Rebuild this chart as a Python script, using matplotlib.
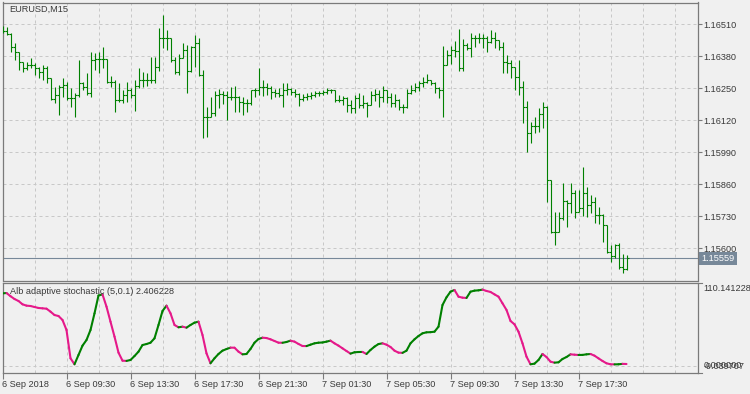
import matplotlib
matplotlib.use("Agg")
import matplotlib.pyplot as plt
from matplotlib.collections import LineCollection
from matplotlib.transforms import blended_transform_factory
import numpy as np

# ---------------- data ----------------
symbol_title = "EURUSD,M15"
indicator_title = "Alb adaptive stochastic (5,0.1) 2.406228"
time_labels = ["6 Sep 2018", "6 Sep 09:30", "6 Sep 13:30", "6 Sep 17:30", "6 Sep 21:30",
               "7 Sep 01:30", "7 Sep 05:30", "7 Sep 09:30", "7 Sep 13:30", "7 Sep 17:30"]
time_label_bars = [0, 16, 32, 48, 64, 80, 96, 112, 128, 144]
price_ticks = [1.15600, 1.15730, 1.15860, 1.15990, 1.16120, 1.16250, 1.16380, 1.16510]
bid_price = 1.15559
stoch_top_label = "110.141228"
stoch_zero_label = "0.000000"
stoch_bottom_label = "-9.039707"

first_open = 1.16490
highs = [1.16503, 1.16500, 1.16473, 1.16433, 1.16399, 1.16358, 1.16358, 1.16372, 1.16352, 1.16338,
         1.16345, 1.16341, 1.16292, 1.16256, 1.16263, 1.16291, 1.16277, 1.16250, 1.16230, 1.16365,
         1.16277, 1.16311, 1.16399, 1.16392, 1.16399, 1.16419, 1.16370, 1.16300, 1.16284, 1.16270,
         1.16243, 1.16277, 1.16250, 1.16284, 1.16331, 1.16317, 1.16311, 1.16378, 1.16378, 1.16494,
         1.16548, 1.16487, 1.16455, 1.16378, 1.16389, 1.16433, 1.16426, 1.16422, 1.16467, 1.16453,
         1.16324, 1.16175, 1.16216, 1.16240, 1.16246, 1.16240, 1.16240, 1.16254, 1.16259, 1.16219,
         1.16216, 1.16205, 1.16243, 1.16250, 1.16331, 1.16284, 1.16270, 1.16259, 1.16246, 1.16250,
         1.16273, 1.16273, 1.16250, 1.16246, 1.16232, 1.16227, 1.16230, 1.16236, 1.16240, 1.16240,
         1.16243, 1.16250, 1.16248, 1.16243, 1.16223, 1.16219, 1.16216, 1.16202, 1.16223, 1.16232,
         1.16223, 1.16196, 1.16240, 1.16246, 1.16243, 1.16259, 1.16243, 1.16230, 1.16227, 1.16205,
         1.16186, 1.16246, 1.16263, 1.16273, 1.16281, 1.16295, 1.16308, 1.16284, 1.16277, 1.16256,
         1.16422, 1.16406, 1.16422, 1.16443, 1.16490, 1.16449, 1.16435, 1.16476, 1.16467, 1.16476,
         1.16471, 1.16462, 1.16487, 1.16480, 1.16446, 1.16439, 1.16385, 1.16365, 1.16338, 1.16365,
         1.16281, 1.16200, 1.16114, 1.16132, 1.16169, 1.16196, 1.16178, 1.15877, 1.15749, 1.15749,
         1.15866, 1.15796, 1.15866, 1.15837, 1.15837, 1.15929, 1.15850, 1.15816, 1.15810, 1.15766,
         1.15738, 1.15695, 1.15613, 1.15617, 1.15620, 1.15577, 1.15573]
lows = [1.16475, 1.16467, 1.16399, 1.16365, 1.16324, 1.16317, 1.16324, 1.16331, 1.16304, 1.16291,
        1.16284, 1.16273, 1.16202, 1.16189, 1.16141, 1.16216, 1.16202, 1.16175, 1.16132, 1.16216,
        1.16243, 1.16223, 1.16216, 1.16324, 1.16311, 1.16331, 1.16270, 1.16254, 1.16155, 1.16196,
        1.16189, 1.16196, 1.16209, 1.16159, 1.16250, 1.16254, 1.16259, 1.16270, 1.16270, 1.16321,
        1.16412, 1.16406, 1.16358, 1.16308, 1.16304, 1.16372, 1.16232, 1.16317, 1.16338, 1.16300,
        1.16047, 1.16051, 1.16135, 1.16137, 1.16169, 1.16186, 1.16121, 1.16202, 1.16155, 1.16155,
        1.16141, 1.16155, 1.16182, 1.16216, 1.16223, 1.16219, 1.16223, 1.16205, 1.16216, 1.16216,
        1.16175, 1.16223, 1.16223, 1.16216, 1.16178, 1.16200, 1.16202, 1.16205, 1.16216, 1.16219,
        1.16223, 1.16227, 1.16230, 1.16196, 1.16196, 1.16182, 1.16155, 1.16151, 1.16148, 1.16169,
        1.16169, 1.16135, 1.16182, 1.16200, 1.16175, 1.16196, 1.16189, 1.16173, 1.16175, 1.16162,
        1.16148, 1.16169, 1.16228, 1.16236, 1.16240, 1.16256, 1.16270, 1.16263, 1.16232, 1.16209,
        1.16132, 1.16345, 1.16349, 1.16378, 1.16321, 1.16321, 1.16406, 1.16378, 1.16419, 1.16435,
        1.16412, 1.16399, 1.16433, 1.16412, 1.16406, 1.16311, 1.16311, 1.16291, 1.16243, 1.16223,
        1.16110, 1.15992, 1.16029, 1.16067, 1.16074, 1.16088, 1.15789, 1.15662, 1.15613, 1.15665,
        1.15715, 1.15685, 1.15742, 1.15722, 1.15749, 1.15731, 1.15728, 1.15742, 1.15701, 1.15699,
        1.15627, 1.15580, 1.15545, 1.15559, 1.15515, 1.15501, 1.15510]
closes = [1.16484, 1.16470, 1.16419, 1.16399, 1.16358, 1.16331, 1.16345, 1.16345, 1.16331, 1.16317,
          1.16331, 1.16291, 1.16206, 1.16223, 1.16256, 1.16263, 1.16209, 1.16209, 1.16223, 1.16270,
          1.16254, 1.16231, 1.16365, 1.16368, 1.16368, 1.16368, 1.16277, 1.16277, 1.16202, 1.16202,
          1.16223, 1.16243, 1.16223, 1.16260, 1.16284, 1.16284, 1.16284, 1.16284, 1.16338, 1.16453,
          1.16453, 1.16453, 1.16365, 1.16317, 1.16372, 1.16406, 1.16320, 1.16419, 1.16433, 1.16304,
          1.16135, 1.16135, 1.16148, 1.16223, 1.16227, 1.16223, 1.16216, 1.16216, 1.16216, 1.16196,
          1.16189, 1.16190, 1.16243, 1.16243, 1.16254, 1.16254, 1.16250, 1.16236, 1.16230, 1.16223,
          1.16243, 1.16246, 1.16236, 1.16227, 1.16205, 1.16216, 1.16219, 1.16223, 1.16232, 1.16230,
          1.16236, 1.16243, 1.16243, 1.16202, 1.16202, 1.16209, 1.16182, 1.16169, 1.16209, 1.16182,
          1.16189, 1.16182, 1.16223, 1.16227, 1.16216, 1.16243, 1.16216, 1.16189, 1.16202, 1.16175,
          1.16175, 1.16230, 1.16243, 1.16254, 1.16270, 1.16277, 1.16284, 1.16273, 1.16250, 1.16243,
          1.16345, 1.16385, 1.16406, 1.16403, 1.16331, 1.16426, 1.16412, 1.16453, 1.16453, 1.16453,
          1.16453, 1.16439, 1.16453, 1.16446, 1.16419, 1.16358, 1.16352, 1.16335, 1.16297, 1.16254,
          1.16173, 1.16070, 1.16097, 1.16097, 1.16146, 1.16175, 1.15877, 1.15666, 1.15667, 1.15722,
          1.15793, 1.15783, 1.15826, 1.15749, 1.15762, 1.15823, 1.15776, 1.15789, 1.15735, 1.15735,
          1.15695, 1.15586, 1.15569, 1.15613, 1.15523, 1.15515, 1.15559]
opens = [first_open] + closes[:-1]

stoch = [102.5, 103.0, 98.5, 94.5, 91.7, 87.0, 85.1, 84.6, 83.2, 81.8,
         81.3, 80.8, 76.6, 71.8, 70.4, 64.8, 50.6, 10.5, 2.0, 15.2,
         28.4, 36.4, 50.6, 74.1, 99.5, 101.0, 83.7, 62.4, 41.2, 18.5,
         7.1, 6.8, 8.1, 13.7, 19.9, 29.3, 30.7, 32.6, 38.8, 57.7,
         77.5, 85.1, 74.2, 57.7, 54.4, 55.3, 53.9, 57.7, 61.0, 62.4,
         43.5, 17.5, 3.4, 10.5, 16.6, 21.3, 23.6, 25.6, 25.5, 19.9,
         16.1, 16.6, 23.7, 32.6, 37.8, 39.7, 39.2, 37.4, 35.0, 32.6,
         32.5, 33.6, 35.5, 34.1, 30.8, 27.9, 27.8, 29.8, 31.7, 32.6,
         32.9, 34.1, 35.5, 31.7, 28.4, 24.6, 20.8, 17.1, 19.0, 19.4,
         19.5, 16.6, 22.3, 27.0, 30.7, 31.7, 29.8, 26.5, 21.3, 18.5,
         18.2, 21.3, 31.7, 37.4, 42.1, 45.9, 47.3, 47.5, 48.2, 55.3,
         86.0, 96.9, 104.9, 107.3, 97.8, 96.4, 96.0, 104.9, 106.4, 106.8,
         107.8, 105.9, 104.5, 101.1, 97.8, 88.4, 79.0, 63.4, 58.6, 48.2,
         31.7, 12.8, 2.0, 2.9, 8.1, 16.6, 12.3, 5.7, 4.3, 4.8,
         9.5, 12.3, 16.1, 15.6, 15.2, 15.3, 16.1, 16.6, 14.2, 10.4,
         6.7, 3.4, 2.0, 1.9, 2.0, 2.6, 2.41]

# ---------------- style ----------------
BG = "#f0f0f0"
FRAME = "#7a7a7a"
GRID = "#c8c8c8"
TXT = "#3a3a3a"
BAR = "#008000"
UP = "#008000"
DOWN = "#e5198a"
BID = "#778899"
FONT = ["Liberation Sans", "DejaVu Sans"]
FS = 6.6
plt.rcParams["font.family"] = FONT

W, H = 750, 394
fig = plt.figure(figsize=(7.5, 3.94), dpi=100, facecolor=BG)


def px_axes(x0, y0, x1, y1):
    return fig.add_axes([x0 / W, 1 - y1 / H, (x1 - x0) / W, (y1 - y0) / H])


ax = px_axes(2.5, 2.5, 697.5, 280.5)
ax2 = px_axes(2.5, 283.0, 697.5, 373.0)

n = len(closes)
idx = np.arange(n)
XMAX = (697.5 - 2.5) / 4.0

for a in (ax, ax2):
    a.set_facecolor(BG)
    a.set_xlim(0, XMAX)
    for s in a.spines.values():
        s.set_color(FRAME)
        s.set_linewidth(0.9)

# ---- main price panel ----
ax.set_ylim(1.154692, 1.165986)
ax.set_xticks(np.arange(8, XMAX, 8))
ax.tick_params(axis="x", length=0, labelbottom=False)
ax.yaxis.tick_right()
ax.set_yticks(price_ticks)
ax.set_yticklabels(["%.5f" % p for p in price_ticks])
ax.tick_params(axis="y", length=3, width=0.8, color=FRAME, pad=1.5,
               labelsize=FS, labelcolor=TXT)
ax.grid(True, color=GRID, linestyle=(0, (3, 3)), linewidth=0.72)
ax.set_axisbelow(True)

BW = 0.8
for coll in (ax.vlines(idx, lows, highs, color=BAR, linewidth=BW, zorder=3),
             ax.hlines(opens, idx - 0.5, idx, color=BAR, linewidth=BW, zorder=3),
             ax.hlines(closes, idx, idx + 0.5, color=BAR, linewidth=BW, zorder=3)):
    coll.set_snap(True)

ax.axhline(bid_price, color=BID, linewidth=0.8, zorder=2)
tr = blended_transform_factory(ax.transAxes, ax.transData)
ax.text(1.0 + 4.0 / 695, bid_price, "%.5f" % bid_price, transform=tr, ha="left", va="center",
        fontsize=FS, color="white", clip_on=False,
        bbox=dict(boxstyle="square,pad=0.22", fc=BID, ec="none"))
ax.text(7.0 / 695, 1 - 7.0 / 278, symbol_title, transform=ax.transAxes, ha="left", va="center",
        fontsize=FS, color=TXT)

# ---- indicator panel ----
ax2.set_ylim(-10.35, 117.2)
ax2.set_xticks(time_label_bars)
ax2.set_xticklabels(time_labels)
ax2.set_xticks(np.arange(8, XMAX, 8), minor=True)
ax2.tick_params(axis="x", which="major", length=4, width=0.8, color=FRAME, pad=1,
                labelsize=FS, labelcolor=TXT)
ax2.tick_params(axis="x", which="minor", length=0)
for lab in ax2.get_xticklabels():
    lab.set_horizontalalignment("left")
ax2.yaxis.tick_right()
ax2.set_yticks([0])
ax2.set_yticklabels([""])
ax2.tick_params(axis="y", length=0)
ax2.grid(True, which="both", color=GRID, linestyle=(0, (3, 3)), linewidth=0.72)
ax2.set_axisbelow(True)

segs = [[(i - 1, stoch[i - 1]), (i, stoch[i])] for i in range(1, n)]
cols = [UP if stoch[i] > stoch[i - 1] else DOWN for i in range(1, n)]
lc = LineCollection(segs, colors=cols, linewidths=1.5, capstyle="round", zorder=3)
ax2.add_collection(lc)

ax2.text(7.0 / 695, 1 - 8.0 / 90, indicator_title, transform=ax2.transAxes, ha="left",
         va="center", fontsize=FS, color=TXT, zorder=4)

# right-hand scale of the indicator pane (the two lower labels overlap, as in the original)
ta = ax2.transAxes
for yy in (1.0, 0.0):
    ax2.plot([1.0, 1.0 + 4.0 / 695], [yy, yy], transform=ta, color=FRAME, lw=0.8, clip_on=False)
ax2.text(1.0 + 6.0 / 695, 1 - 1.0 / 90, stoch_top_label, transform=ta, ha="left", va="top",
         fontsize=FS, color=TXT, clip_on=False)
tr2 = blended_transform_factory(ax2.transAxes, ax2.transData)
ax2.text(1.0 + 6.0 / 695, -1.5, stoch_bottom_label, transform=tr2, ha="left", va="center",
         fontsize=FS, color=TXT, clip_on=False)
ax2.text(1.0 + 6.0 / 695, 0.5, stoch_zero_label, transform=tr2, ha="left", va="center",
         fontsize=FS, color=TXT, clip_on=False)

fig.savefig("out.png", dpi=100, facecolor=BG)
